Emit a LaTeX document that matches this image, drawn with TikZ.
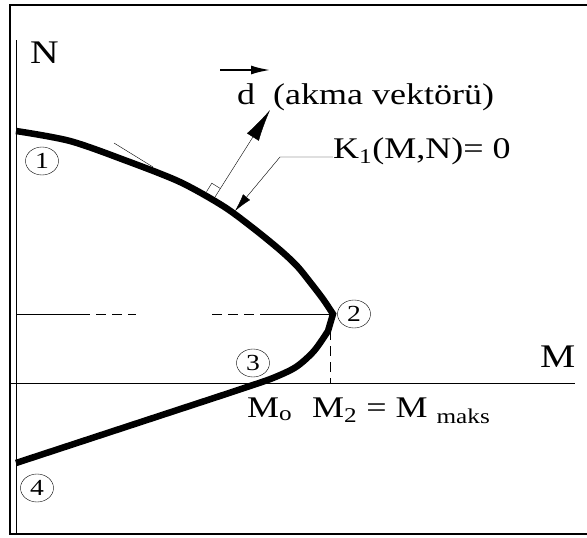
\documentclass[tikz,border=0pt]{standalone}
\usepackage{fontspec}
\setmainfont[FakeStretch=1.2]{Liberation Serif}
\usetikzlibrary{arrows.meta,shapes.geometric}

\begin{document}
\begin{tikzpicture}[x=1pt,y=-1pt,
  lbl/.style={anchor=base west,inner sep=0pt,font=\fontsize{30}{34}\selectfont},
  axlbl/.style={anchor=base west,inner sep=0pt,font=\fontsize{33}{36}\selectfont},
  num/.style={draw,ellipse,inner sep=0pt,minimum width=33pt,minimum height=28pt,font=\fontsize{23}{24}\selectfont},
  yieldline/.style={line width=6.5pt,line join=miter},
  helper/.style={dash pattern=on 10pt off 6pt}]
\useasboundingbox (0,0) rectangle (587,538);
\draw[line width=1.8pt] (587,5) -- (10,5) -- (10,534) -- (587,534);

% axes
\coordinate (Nbot) at (16,534);
\coordinate (Ntop) at (16,40);
\coordinate (Mleft) at (10,383);
\coordinate (Mright) at (575,383);
\draw (Nbot) -- (Ntop);
\draw (Mleft) -- (Mright);
\node[axlbl] (Nlbl) at (30,63) {N};
\node[axlbl] (Mlbl) at (540,367) {M};

% yield surface
\coordinate (p1) at (16,131);
\coordinate (p2) at (333,314);
\coordinate (p3) at (220,396);
\coordinate (p4) at (16,463);
\draw[yieldline] plot[smooth,tension=0.5] coordinates {(16,131) (70,141) (127,161) (180,182) (223,206) (253,228) (280,250) (297,266) (310,282) (323,299) (333,314)}
  -- plot[smooth,tension=0.5] coordinates {(328,331) (314,351) (296,367) (273,378) (247,387) (220,396)} -- (p4);

% helper lines through point 2
\coordinate (h1) at (16,314);
\coordinate (h2) at (80,314);
\coordinate (h3) at (136,314);
\coordinate (h4) at (212,314);
\coordinate (h5) at (266,314);
\coordinate (m2) at (330,383);
\draw (h1) -- (h2);
\draw[helper] (h2) -- (h3);
\draw[helper] (h4) -- (h5);
\draw (h5) -- (p2);
\draw[helper] (330,314) -- (m2);

% tangent and flow vector
\coordinate (t1) at (114,143);
\coordinate (t2) at (153,167);
\draw[thin] (t1) -- (t2);
\coordinate (foot) at (215,197);
\coordinate (dtip) at (270,110);
\draw (206.5,191.7) -- (211.8,183.2) -- (220.3,188.5);
\draw[-{Latex[length=32pt,width=14pt]}] (foot) -- (dtip);
\coordinate (vL) at (220,70);
\coordinate (vR) at (271,70);
\draw[line width=2.5pt,-{Latex[length=20pt,width=9pt]}] (vL) -- (vR);
\node[lbl] (dlbl) at (237,104) {d\ \ (akma vektörü)};

% leader to the surface
\node[lbl] (Klbl) at (333,158) {K\textsubscript{1}(M,N)= 0};
\coordinate (kbend) at (280,157);
\coordinate (kend) at (235,211);
\draw[-{Latex[length=18pt,width=9pt]}] (Klbl.west |- 0,157) -- (kbend) -- (kend);

% values on the M axis
\node[lbl] (Molbl) at (247,417) {M\textsubscript{o}};
\node[lbl] (M2lbl) at (312,417) {M\textsubscript{2} = M \textsubscript{maks}};

% numbered points
\node[num] (n1) at (42,161) {1};
\node[num] (n2) at (354,314) {2};
\node[num] (n3) at (253,363) {3};
\node[num] (n4) at (37,488) {4};
\end{tikzpicture}
\end{document}
